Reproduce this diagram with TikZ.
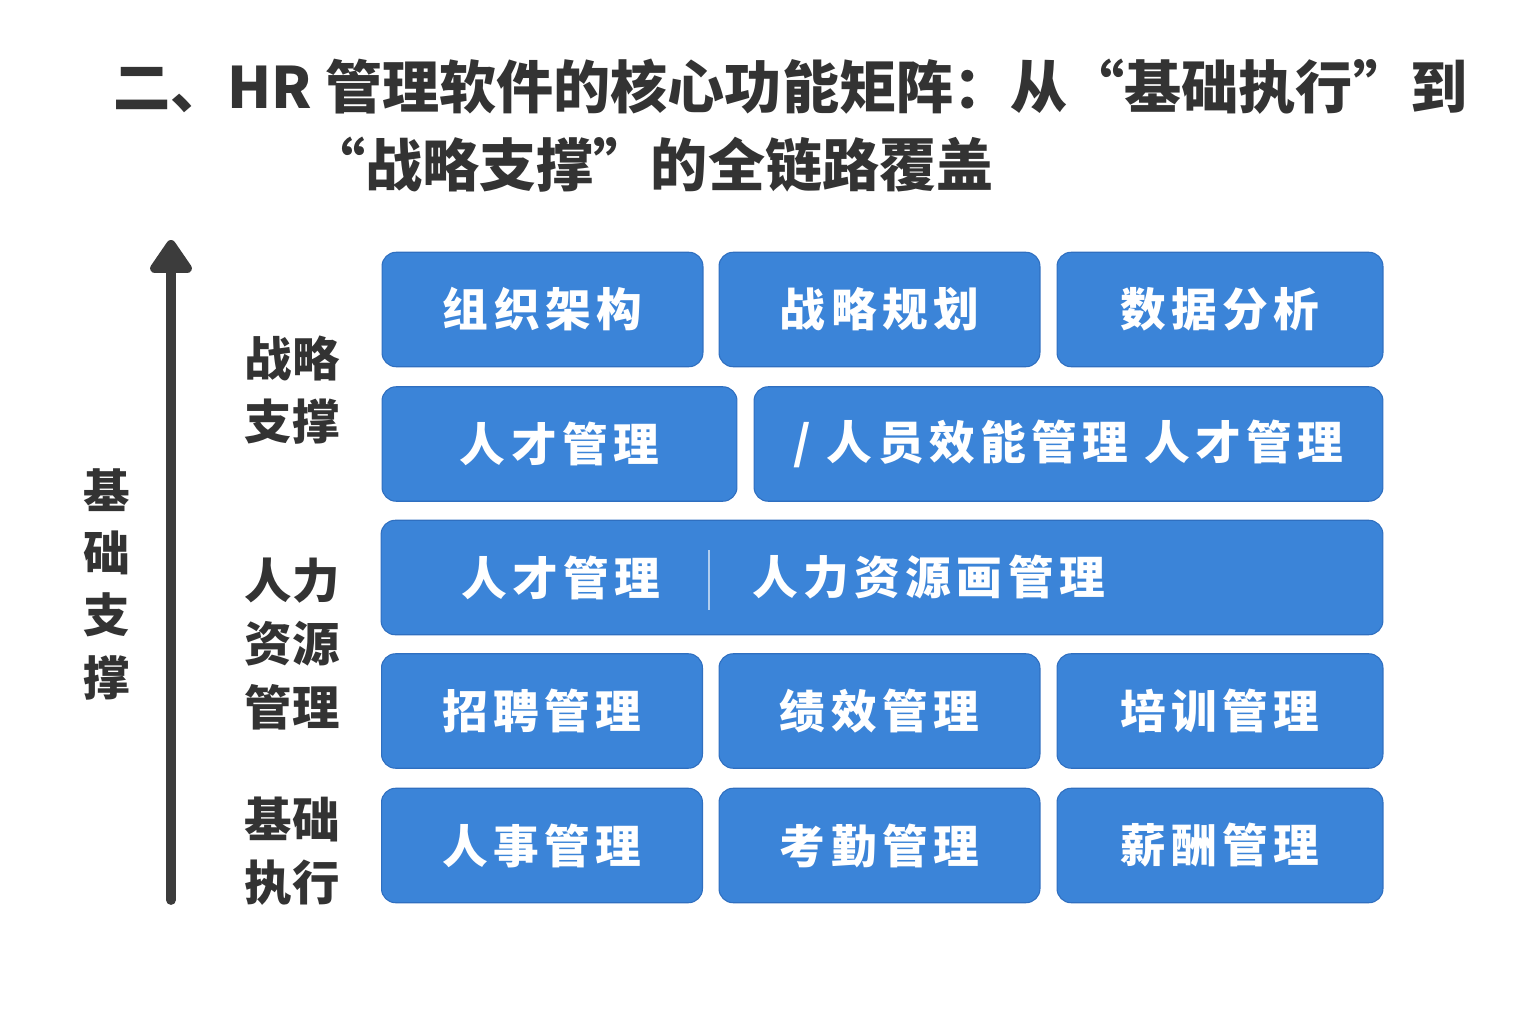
\documentclass[tikz,border=0pt]{standalone}
\usepackage{fontspec}
\setmainfont{Noto Sans CJK SC}
\newfontfamily\boxfont[LetterSpace=12]{Noto Sans CJK SC}
\usetikzlibrary{arrows.meta}
\definecolor{tileblue}{HTML}{3B84D8}
\definecolor{tileedge}{HTML}{2F6FC0}
\definecolor{inkgray}{HTML}{333333}
\definecolor{axisgray}{HTML}{3C3C3C}
\begin{document}
\begin{tikzpicture}
            [x=0.02cm, y=-0.02cm,
            tile/.style={draw=tileedge, fill=tileblue, rounded corners=8pt, line width=0.6pt,
                text=white, font=\boxfont\bfseries\fontsize{26}{30}\selectfont, inner sep=0pt,
                minimum height=2.29cm},
            narrow/.style={tile, minimum width=6.42cm},
            wide/.style={tile, minimum width=6.52cm},
            tiletext/.style={text=white, font=\boxfont\bfseries\fontsize{26}{30}\selectfont, inner sep=0pt},
            level/.style={text=inkgray, font=\bfseries\fontsize{27}{36}\selectfont, align=center, inner sep=0pt},
            heading/.style={text=inkgray, font=\bfseries\fontsize{32.5}{40}\selectfont, inner sep=0pt}]

            \useasboundingbox (0,0) rectangle (1536,1024);

            % Title
            \node[heading, anchor=west] (title1) at (113,87) {二、HR 管理软件的核心功能矩阵：从“基础执行”到};
            \node[heading, anchor=west] (title2) at (308,165) {“战略支撑”的全链路覆盖};

            % Axis
            \coordinate (low) at (171,900);
            \coordinate (high) at (171,240);
            \draw[axisgray, line width=5.6pt, line cap=round,
                -{Triangle[width=27pt, length=21pt, round]}] (low) -- (high);
            \node[level, font=\bfseries\fontsize{26.5}{35.5}\selectfont] (axislabel) at (107,584) {基\\础\\支\\撑};

            % Levels
            \node[level] (strategic) at (292,390) {战略\\支撑};
            \node[level] (hrm) at (292,644) {人力\\资源\\管理};
            \node[level] (basic) at (292,851) {基础\\执行};

            % Row 1
            \node[narrow] (org) at (542.5,309.5) {组织架构};
            \node[narrow] (plan) at (879.5,309.5) {战略规划};
            \node[wide] (data) at (1220,309.5) {数据分析};

            % Row 2
            \node[tile, minimum width=7.10cm] (talent) at (559.5,444) {人才管理};
            \node[tile, minimum width=12.58cm] (perf) at (1068.5,444) {/ 人员效能管理 人才管理};

            % Row 3
            \node[tile, minimum width=20.04cm] (hrbar) at (882,577.5) {};
            \node[tiletext] (talent2) at (561,577.5) {人才管理};
            \node[tiletext, anchor=west] (hrtext) at (752,577.5) {人力资源画管理};
            \draw[white!60!tileblue, line width=0.8pt] (709,550) -- (709,610);

            % Row 4
            \node[narrow] (recruit) at (542,711) {招聘管理};
            \node[narrow] (kpi) at (879.5,711) {绩效管理};
            \node[wide] (train) at (1220,711) {培训管理};

            % Row 5
            \node[narrow] (staff) at (542,845.5) {人事管理};
            \node[narrow] (attend) at (879.5,845.5) {考勤管理};
            \node[wide] (pay) at (1220,845.5) {薪酬管理};

        \end{tikzpicture}
\end{document}
